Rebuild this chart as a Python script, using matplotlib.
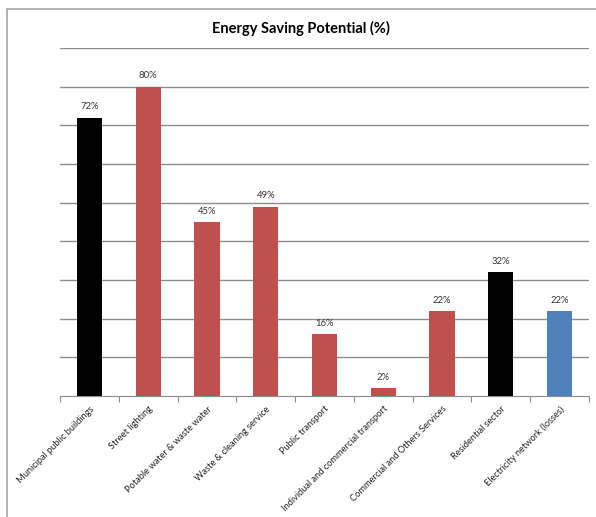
import matplotlib.pyplot as plt
from matplotlib.patches import Rectangle

# sectors and their energy saving potential (%)
sectores = ["Municipal public buildings", "Street lighting", "Potable water & waste water",
            "Waste & cleaning service", "Public transport", "Individual and commercial transport",
            "Commercial and Others Services", "Residential sector", "Electricity network (losses)"]
ahorro = [72, 80, 45, 49, 16, 2, 22, 32, 22]
colores = ["#000000", "#C0504D", "#C0504D", "#C0504D", "#C0504D", "#C0504D",
           "#C0504D", "#000000", "#4F81BD"]

plt.rcParams['font.family'] = ['Lato', 'DejaVu Sans']

fig = plt.figure(figsize=(5.96, 5.17), dpi=100)
ax = fig.add_axes([60/596, 1 - 396/517, 529/596, 348/517])

# marco exterior del grafico
fig.patches.append(Rectangle((7/596, -0.05), 1.1, 1 - 9/517 + 0.05, transform=fig.transFigure,
                             fill=False, edgecolor="#A6A6A6", linewidth=1.2))

x = range(len(sectores))
ax.bar(x, ahorro, width=0.43, color=colores, zorder=3)
for i, v in enumerate(ahorro):
    ax.text(i, v + 1.6, f"{v}%", ha="center", va="bottom", fontsize=6.8, color="#333333")

ax.set_xlim(-0.5, len(sectores) - 0.5)
ax.set_ylim(0, 90)
ax.set_yticks(range(10, 91, 10))
ax.tick_params(axis="y", length=0, labelleft=False)
ax.yaxis.grid(True, color="#8C8C8C", linewidth=1.0)
ax.set_axisbelow(True)

# ticks entre categorias, etiquetas en el centro
ax.set_xticks([i - 0.5 for i in range(len(sectores) + 1)])
ax.set_xticklabels([])
ax.set_xticks(list(x), minor=True)
ax.set_xticklabels(sectores, minor=True, rotation=45, ha="right", rotation_mode="anchor",
                   fontsize=6.7, color="#222222")
ax.tick_params(axis="x", which="major", length=4, color="#8C8C8C")
ax.tick_params(axis="x", which="minor", length=0, pad=6)

for s in ["top", "right", "left"]:
    ax.spines[s].set_visible(False)
ax.spines["bottom"].set_color("#8C8C8C")

fig.text(0.505, 1 - 28/517, "Energy Saving Potential (%)", ha="center", va="center",
         fontsize=10.5, fontweight="bold")

plt.savefig("out.png", dpi=100)
